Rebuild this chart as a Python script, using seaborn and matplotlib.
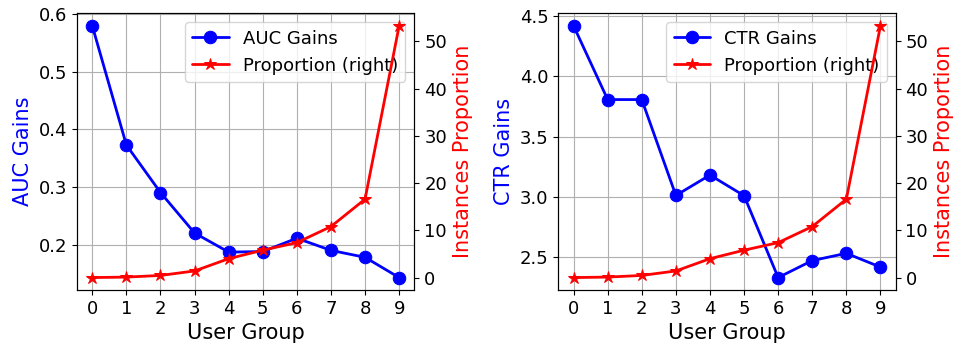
import numpy as np
import pandas as pd
import matplotlib
matplotlib.use("Agg")
import matplotlib.pyplot as plt
import seaborn as sns

# data
groups = [0, 1, 2, 3, 4, 5, 6, 7, 8, 9]
auc_gains = [0.579, 0.373, 0.291, 0.221, 0.188, 0.189, 0.212, 0.191, 0.179, 0.144]
ctr_gains = [4.418, 3.807, 3.807, 3.012, 3.181, 3.010, 2.331, 2.472, 2.532, 2.418]
proportion = [0.0, 0.1, 0.45, 1.4, 4.0, 5.8, 7.4, 10.8, 16.6, 53.3]

sns.set_style("ticks", {
    "axes.grid": True,
    "grid.color": "#b0b0b0",
    "axes.edgecolor": "black",
    "xtick.color": "black",
    "ytick.color": "black",
    "text.color": "black",
    "axes.labelcolor": "black",
})
plt.rcParams["font.family"] = ["DejaVu Sans"]

fig, axes = plt.subplots(1, 2, figsize=(9.56, 3.5), dpi=100)
fig.subplots_adjust(left=0.0805, right=0.937, bottom=0.171, top=0.962, wspace=0.426)

panels = [(axes[0], auc_gains, "AUC Gains"), (axes[1], ctr_gains, "CTR Gains")]

for ax, gains, name in panels:
    sns.lineplot(x=groups, y=gains, ax=ax, color="blue", marker="o",
                 markersize=9, markeredgecolor="blue", linewidth=2, label=name)
    ax2 = ax.twinx()
    sns.lineplot(x=groups, y=proportion, ax=ax2, color="red", marker="*",
                 markersize=9, markeredgecolor="red", linewidth=2,
                 label="Proportion (right)")
    ax2.grid(False)
    ax2.set_yticks([0, 10, 20, 30, 40, 50])

    h1, l1 = ax.get_legend_handles_labels()
    h2, l2 = ax2.get_legend_handles_labels()
    ax2.get_legend().remove()
    ax.legend(h1 + h2, l1 + l2, loc="upper right", fontsize=13,
              framealpha=0.8, edgecolor="#cccccc", fancybox=True)

    ax.set_xticks(groups)
    ax.set_xlabel("User Group", fontsize=15)
    ax.set_ylabel(name, fontsize=15, color="blue")
    ax2.set_ylabel("Instances Proportion", fontsize=15, color="red")
    ax.tick_params(labelsize=13)
    ax2.tick_params(labelsize=13)
    ax.margins(x=0.05)

axes[0].set_yticks([0.2, 0.3, 0.4, 0.5, 0.6])
axes[1].set_yticks([2.5, 3.0, 3.5, 4.0, 4.5])
axes[1].set_yticklabels(["2.5", "3.0", "3.5", "4.0", "4.5"])

plt.savefig("out.png", dpi=100)
